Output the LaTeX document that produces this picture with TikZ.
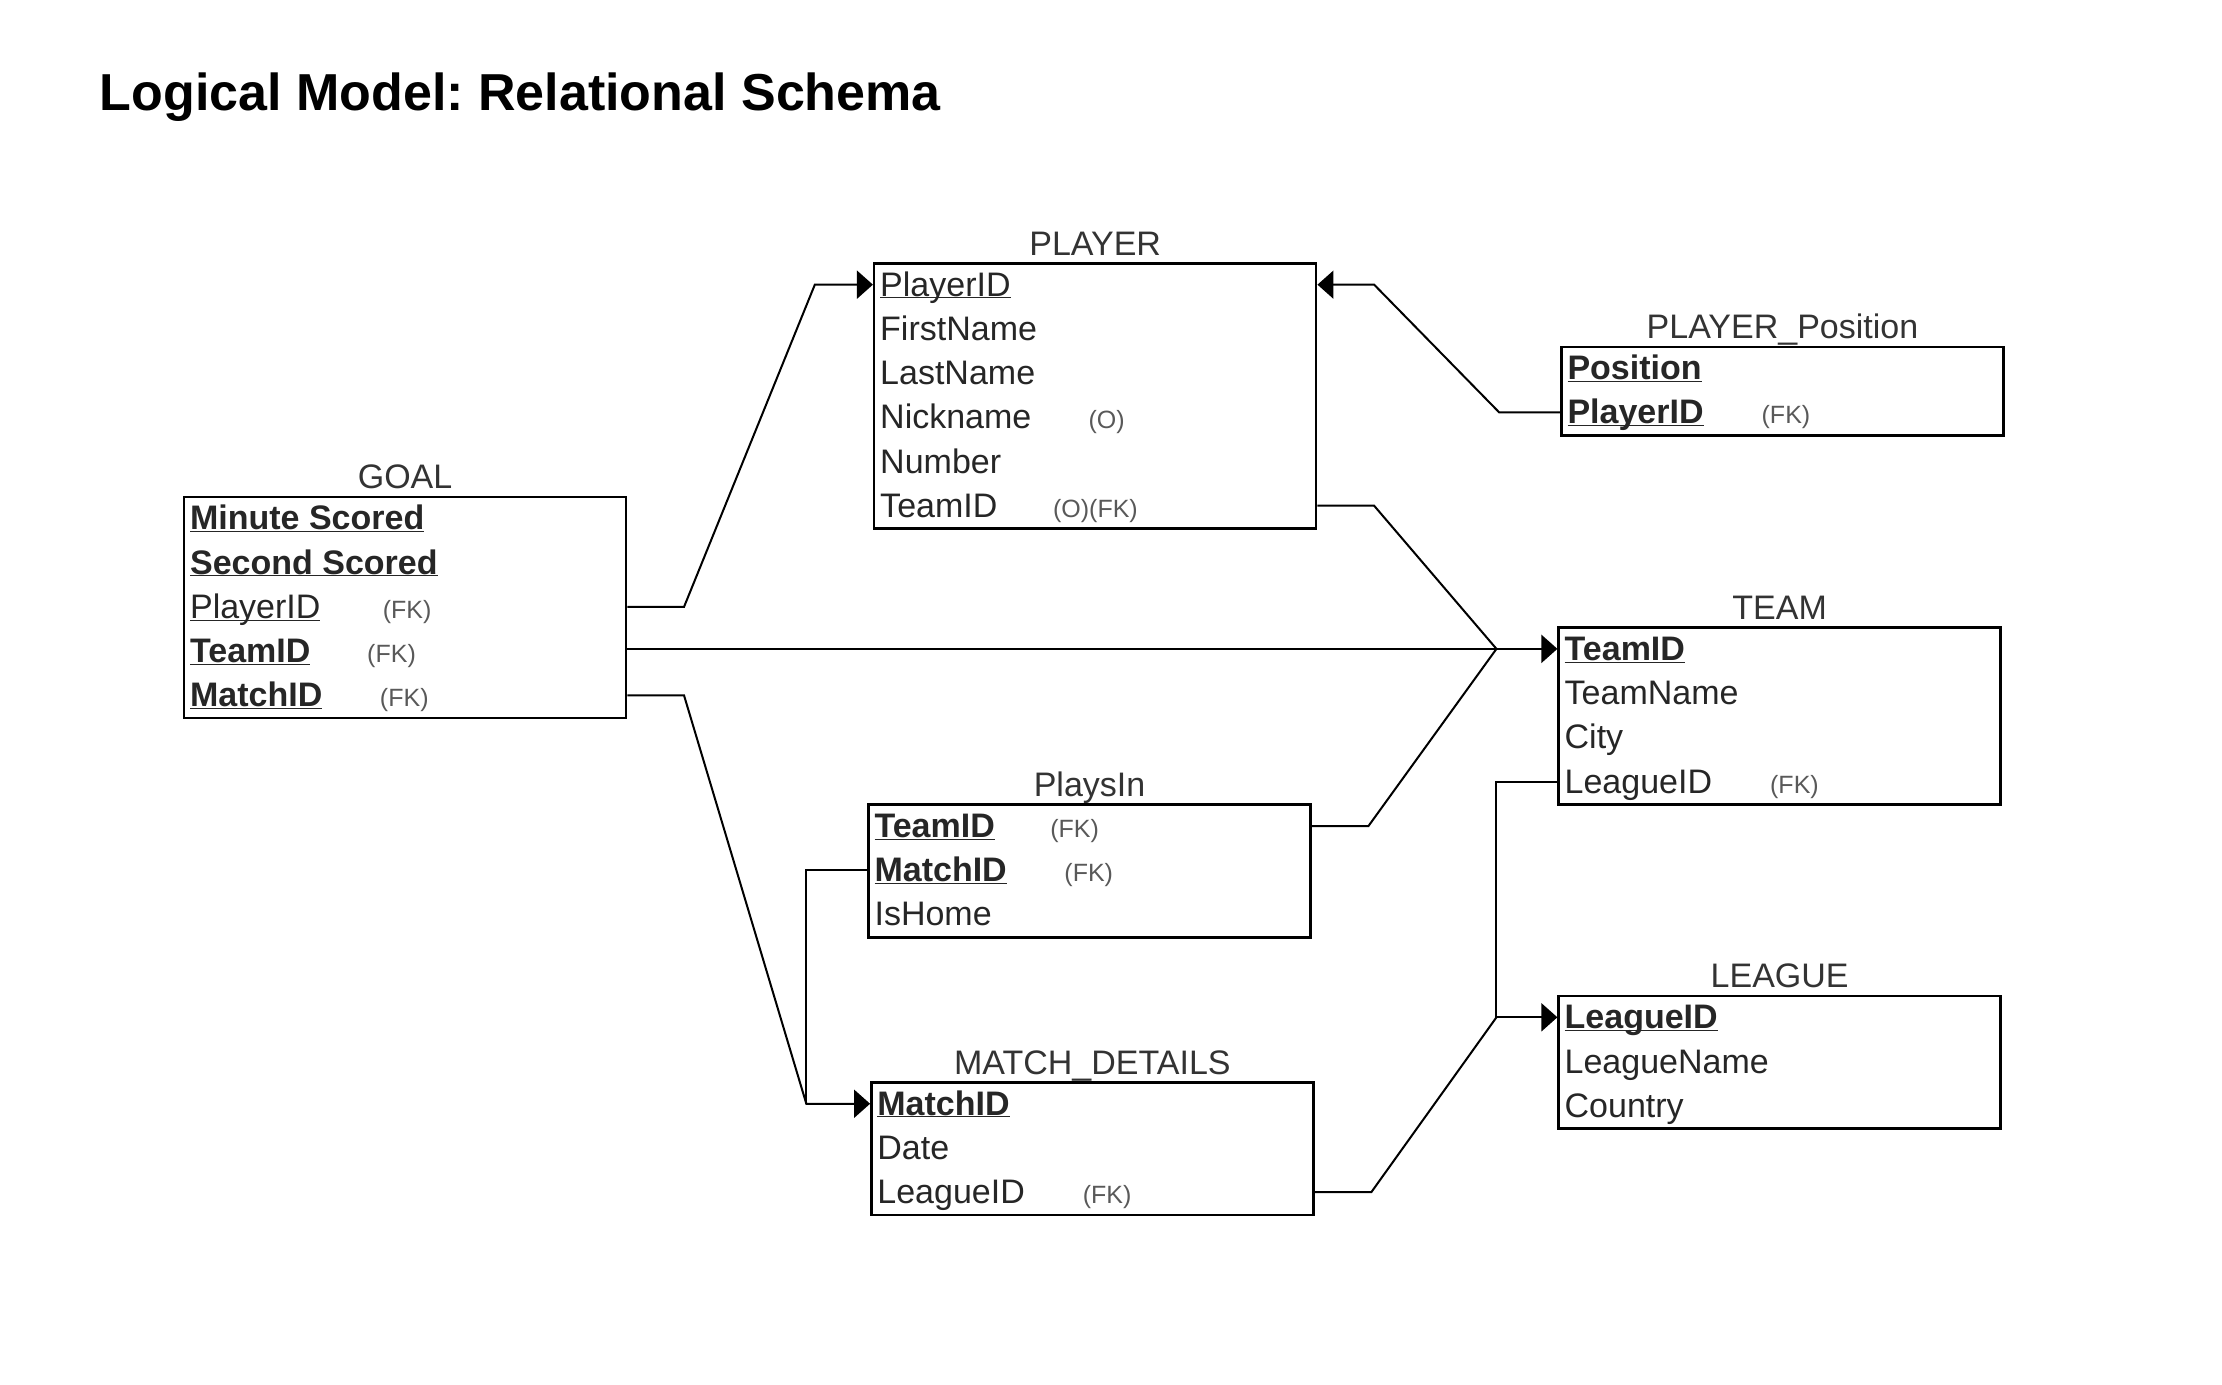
\documentclass[tikz,border=0pt]{standalone}
\usepackage{fontspec}
\setmainfont{Liberation Sans}
\usetikzlibrary{arrows.meta,calc}
\frenchspacing
\newcommand{\keyreg}[1]{\underline{\smash{#1}}}
\newcommand{\keybf}[1]{\underline{\smash{\bfseries #1}}}

\begin{document}
\begin{tikzpicture}[x=1.417pt,y=-1.417pt,
  tbl/.style={draw,line width=2.5pt,minimum width=442pt,anchor=north west,inner sep=0pt},
  ttl/.style={anchor=base,yshift=7pt,text=black!80,font=\fontsize{34}{40}\selectfont},
  attr/.style={anchor=base west,inner sep=0pt,text height=23pt,text depth=0pt,text=black!85,font=\fontsize{34}{40}\selectfont},
  note/.style={anchor=base west,inner sep=0pt,text=black!65,font=\fontsize{25}{30}\selectfont},
  link/.style={line width=2pt},
  fk/.style={link,-{Triangle[length=16pt,width=28pt]}}]
  \useasboundingbox (0,0) rectangle (1568,977);
  \node[anchor=base west,font=\bfseries\fontsize{52}{60}\selectfont] (title) at (68,78) {Logical Model: Relational Schema};

  % PLAYER
  \node[tbl,minimum height=265.2pt] (pl) at (616,185) {};
  \node[ttl] (pl-t) at (pl.north) {PLAYER};
  \foreach \t [count=\i] in {\keyreg{PlayerID},FirstName,LastName,Nickname,Number,TeamID}
    \node[attr] (pl-\i) at ($(pl.north west)+(5,24+31.2*\i-31.2)$) {\t};
  \node[note] (pl-4n) at ($(pl-4.base west)+(147,0)$) {(O)};
  \node[note] (pl-6n) at ($(pl-6.base west)+(122,0)$) {(O)(FK)};

  % PLAYER_Position
  \node[tbl,minimum height=88.4pt] (pp) at (1101,244) {};
  \node[ttl] (pp-t) at (pp.north) {PLAYER\_Position};
  \foreach \t [count=\i] in {\keybf{Position},\keybf{PlayerID}}
    \node[attr] (pp-\i) at ($(pp.north west)+(5,24+31.2*\i-31.2)$) {\t};
  \node[note] (pp-2n) at ($(pp-2.base west)+(137,0)$) {(FK)};

  % GOAL
  \node[tbl,minimum height=221pt] (gl) at (129,350) {};
  \node[ttl] (gl-t) at (gl.north) {GOAL};
  \foreach \t [count=\i] in {\keybf{Minute Scored},\keybf{Second Scored},\keyreg{PlayerID},\keybf{TeamID},\keybf{MatchID}}
    \node[attr] (gl-\i) at ($(gl.north west)+(5,24+31.2*\i-31.2)$) {\t};
  \node[note] (gl-3n) at ($(gl-3.base west)+(136,0)$) {(FK)};
  \node[note] (gl-4n) at ($(gl-4.base west)+(125,0)$) {(FK)};
  \node[note] (gl-5n) at ($(gl-5.base west)+(134,0)$) {(FK)};

  % TEAM
  \node[tbl,minimum height=176.8pt] (tm) at (1099,442) {};
  \node[ttl] (tm-t) at (tm.north) {TEAM};
  \foreach \t [count=\i] in {\keybf{TeamID},TeamName,City,LeagueID}
    \node[attr] (tm-\i) at ($(tm.north west)+(5,24+31.2*\i-31.2)$) {\t};
  \node[note] (tm-4n) at ($(tm-4.base west)+(145,0)$) {(FK)};

  % PlaysIn
  \node[tbl,minimum height=132.6pt] (pi) at (612,567) {};
  \node[ttl] (pi-t) at (pi.north) {PlaysIn};
  \foreach \t [count=\i] in {\keybf{TeamID},\keybf{MatchID},IsHome}
    \node[attr] (pi-\i) at ($(pi.north west)+(5,24+31.2*\i-31.2)$) {\t};
  \node[note] (pi-1n) at ($(pi-1.base west)+(124,0)$) {(FK)};
  \node[note] (pi-2n) at ($(pi-2.base west)+(134,0)$) {(FK)};

  % LEAGUE
  \node[tbl,minimum height=132.6pt] (lg) at (1099,702) {};
  \node[ttl] (lg-t) at (lg.north) {LEAGUE};
  \foreach \t [count=\i] in {\keybf{LeagueID},LeagueName,Country}
    \node[attr] (lg-\i) at ($(lg.north west)+(5,24+31.2*\i-31.2)$) {\t};

  % MATCH_DETAILS
  \node[tbl,minimum height=132.6pt] (md) at (614,763) {};
  \node[ttl] (md-t) at (md.north) {MATCH\_DETAILS};
  \foreach \t [count=\i] in {\keybf{MatchID},Date,LeagueID}
    \node[attr] (md-\i) at ($(md.north west)+(5,24+31.2*\i-31.2)$) {\t};
  \node[note] (md-3n) at ($(md-3.base west)+(145,0)$) {(FK)};

  % junctions
  \coordinate (jt) at ($(tm.west |- tm-1)+(-43,0)$);
  \coordinate (jl) at ($(lg.west |- lg-1)+(-43,0)$);
  \coordinate (jm) at ($(md.west |- md-1)+(-45,0)$);

  % links
  \draw[fk] (gl.east |- gl-3) -- ++(40,0) -- ($(pl.west |- pl-1)+(-41,0)$) -- (pl.west |- pl-1);
  \draw[fk] (pp.west |- pp-2) -- ++(-43,0) -- ($(pl.east |- pl-1)+(40,0)$) -- (pl.east |- pl-1);
  \draw[fk] (gl.east |- jt) -- (jt) -- (tm.west |- tm-1);
  \draw[link] (pl.east |- pl-6) -- ++(40,0) -- (jt);
  \draw[link] (pi.east |- pi-1) -- ++(40,0) -- (jt);
  \draw[fk] (gl.east |- gl-5) -- ++(40,0) -- (jm) -- (md.west |- md-1);
  \draw[link] (pi.west |- pi-2) -- (jm |- pi-2) -- (jm);
  \draw[fk] (tm.west |- tm-4) -- (jl |- tm-4) -- (jl) -- (lg.west |- lg-1);
  \draw[link] (md.east |- md-3) -- ++(40,0) -- (jl);
\end{tikzpicture}
\end{document}
